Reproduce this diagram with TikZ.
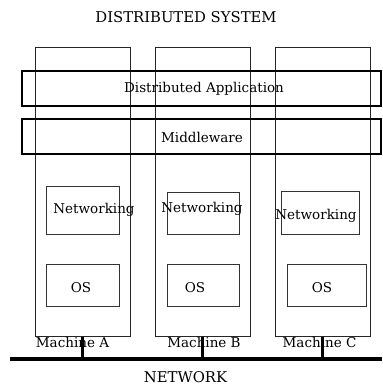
\documentclass[tikz,border=0pt]{standalone}
\usepackage{fontspec}
\setmainfont{DejaVu Serif}
\begin{document}
\begin{tikzpicture}[x=1pt,y=-1pt,
  machine/.style={draw=black!85,line width=0.9pt,inner sep=0pt,minimum width=95pt,minimum height=289pt},
  layer/.style={draw=black,line width=2pt,inner sep=0pt,minimum width=359pt,minimum height=35pt},
  inner/.style={draw=black!80,line width=0.9pt,inner sep=0pt},
  txt/.style={inner sep=0pt,font=\fontsize{13.5}{15}\selectfont},
  caps/.style={inner sep=0pt,font=\fontsize{14.8}{16}\selectfont},
  netline/.style={line width=4pt},
  stub/.style={line width=3pt}]
\useasboundingbox (0,0) rectangle (382,387);
\node[caps] (title) at (186,17) {DISTRIBUTED SYSTEM};
% machines
\node[machine] (mA) at (82.5,192) {};
\node[machine] (mB) at (203,192) {};
\node[machine] (mC) at (323,192) {};
% layers
\node[layer] (app) at (201.5,89) {};
\node[txt] (appt) at (204,89) {Distributed Application};
\node[layer] (mw) at (201.5,136.5) {};
\node[txt] (mwt) at (202,137) {Middleware};
% networking boxes
\node[inner,minimum width=73pt,minimum height=48pt] (nA) at (82.5,210) {};
\node[inner,minimum width=72pt,minimum height=42pt] (nB) at (203,213) {};
\node[inner,minimum width=78pt,minimum height=43pt] (nC) at (320,212.5) {};
\node[txt] (nAt) at (94,210) {Networking};
\node[txt] (nBt) at (202,209) {Networking};
\node[txt] (nCt) at (316,216) {Networking};
% OS boxes
\node[inner,minimum width=73pt,minimum height=42pt] (oA) at (82.5,285) {};
\node[inner,minimum width=72pt,minimum height=42pt] (oB) at (203,285) {};
\node[inner,minimum width=79pt,minimum height=42pt] (oC) at (326.5,285) {};
\node[txt] (oAt) at (81,288) {OS};
\node[txt] (oBt) at (195,288) {OS};
\node[txt] (oCt) at (322,288) {OS};
% machine labels
\node[txt] (lA) at (72.5,342) {Machine A};
\node[txt] (lB) at (204,342) {Machine B};
\node[txt] (lC) at (319.5,342) {Machine C};
% network
\coordinate (nl) at (10,359);
\coordinate (nr) at (382,359);
\draw[netline] (nl) -- (nr);
\draw[stub] (mA.south) -- (mA.south |- nl);
\draw[stub] ([xshift=-1pt]mB.south) -- ([xshift=-1pt]mB.south |- nl);
\draw[stub] ([xshift=-1pt]mC.south) -- ([xshift=-1pt]mC.south |- nl);
\node[caps] (net) at (185.5,377) {NETWORK};
\end{tikzpicture}
\end{document}
